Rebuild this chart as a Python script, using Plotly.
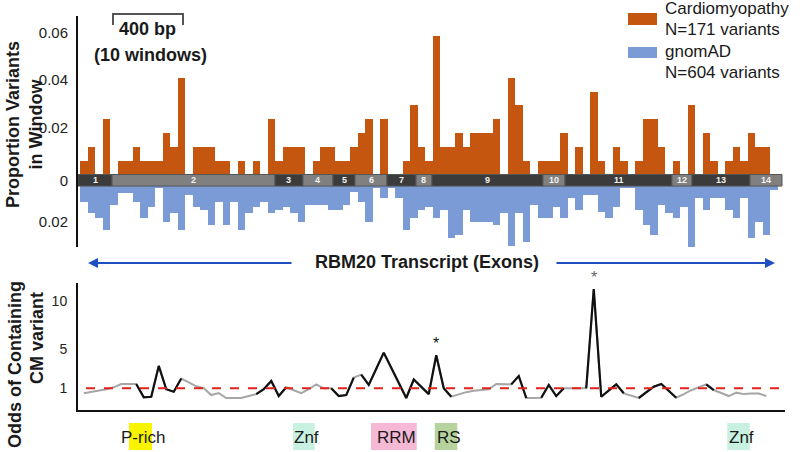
import plotly.graph_objects as go

W, H = 800, 452
FONT = "Arial, Liberation Sans, sans-serif"
ORANGE = "#c5560f"
BLUE = "#7a9bd6"

# cardiomyopathy variant counts per 40 bp window (N=171)
CM_COUNTS = [1, 2, 0, 4, 0, 1, 1, 2, 1, 1,
             1, 3, 2, 7, 0, 2, 2, 2, 1, 1,
             0, 1, 0, 1, 0, 4, 1, 2, 2, 2,
             0, 1, 2, 2, 1, 1, 2, 3, 4, 0,
             4, 0, 0, 1, 5, 2, 1, 10, 2, 2,
             3, 2, 3, 3, 3, 4, 0, 7, 5, 1,
             0, 1, 1, 1, 3, 0, 2, 0, 6, 1,
             0, 2, 1, 0, 1, 4, 4, 2, 0, 1,
             0, 5, 0, 3, 1, 0, 1, 2, 1, 3,
             2, 2, 0]
N_CM = 171

# gnomAD proportion per window (N=604)
GNOMAD_PROP = [0.0115, 0.0163, 0.0183, 0.0235, 0.0129, 0.0078, 0.0078, 0.0115, 0.0183, 0.0136,
               0.0057, 0.0200, 0.0163, 0.0235, 0.0087, 0.0136, 0.0150, 0.0214, 0.0115, 0.0214,
               0.0115, 0.0235, 0.0163, 0.0136, 0.0115, 0.0163, 0.0150, 0.0136, 0.0163, 0.0200,
               0.0129, 0.0129, 0.0129, 0.0150, 0.0150, 0.0129, 0.0073, 0.0115, 0.0200, 0.0057,
               0.0100, 0.0057, 0.0100, 0.0235, 0.0183, 0.0150, 0.0136, 0.0183, 0.0150, 0.0270,
               0.0256, 0.0150, 0.0200, 0.0200, 0.0200, 0.0214, 0.0163, 0.0302, 0.0163, 0.0285,
               0.0129, 0.0183, 0.0186, 0.0136, 0.0183, 0.0101, 0.0150, 0.0087, 0.0087, 0.0158,
               0.0183, 0.0136, 0.0058, 0.0058, 0.0150, 0.0214, 0.0256, 0.0129, 0.0165, 0.0183,
               0.0136, 0.0341, 0.0101, 0.0150, 0.0101, 0.0101, 0.0150, 0.0183, 0.0101, 0.0270,
               0.0200, 0.0256, 0.0066]

# odds of containing a CM variant, per window
ODDS = [0.48, 0.6, 0.75, 0.9, 1.1, 1.44, 1.44, 1.44, 0.07, 0.13,
        3.3, 0.9, 0.65, 2.0, 1.6, 1.2, 1.0, 0.3, 0.5, 0.0,
        0.0, 0.0, 0.2, 0.4, 0.9, 1.75, 0.2, 1.1, 0.8, 0.5,
        0.9, 1.4, 1.0, 1.0, 0.2, 0.3, 2.1, 2.4, 1.34, 3.0,
        4.66, 3.1, 1.55, 0.0, 1.9, 1.2, 0.4, 4.4, 1.0, 0.13,
        0.4, 0.6, 0.75, 0.8, 0.9, 1.44, 1.4, 1.4, 2.26, 0.0,
        0.0, 0.03, 1.34, 0.2, 1.0, 1.0, 1.0, 1.0, 11.2, 0.13,
        0.8, 1.4, 0.48, 0.2, 0.0, 0.6, 1.16, 1.44, 0.7, 0.03,
        0.4, 0.8, 1.1, 1.4, 0.82, 0.5, 0.2, 0.55, 0.4, 0.45,
        0.45, 0.2]
BLACK_RUNS = [(7, 13), (23, 27), (33, 36), (37, 49), (57, 59), (61, 64), (67, 72), (74, 79), (83, 84)]
SIG_WINDOWS = [47, 68]

# exon boundaries in window units
EXON_EDGES = [-0.27, 4.27, 26.0, 29.73, 33.73, 36.67, 40.93, 44.8, 46.93,
              61.73, 64.67, 78.93, 81.6, 89.33, 93.6]
DOMAINS = [("P-rich", 6.53, 9.6, "#f8f400"), ("Znf", 28.4, 31.3, "#c8f1e1"),
           ("RRM", 38.8, 44.9, "#f6b9d5"), ("RS", 47.3, 50.3, "#b6d39e"),
           ("Znf", 86.3, 89.3, "#c8f1e1")]


def px(x):
    return x / W


def py(y):
    return 1 - y / H


def label(x, y, text, size=18, color="#1a1a1a", **kw):
    d = dict(x=px(x), y=py(y), xref="paper", yref="paper", text=text, showarrow=False,
             xanchor="center", yanchor="middle", font=dict(family=FONT, size=size, color=color))
    d.update(kw)
    return d


xc = [i + 0.5 for i in range(len(CM_COUNTS))]
fig = go.Figure()
fig.add_trace(go.Bar(x=xc, y=[c / N_CM for c in CM_COUNTS], width=1,
                     marker=dict(color=ORANGE, line=dict(width=0)), xaxis="x", yaxis="y"))
fig.add_trace(go.Bar(x=xc, y=[-g for g in GNOMAD_PROP], width=1,
                     marker=dict(color=BLUE, line=dict(width=0)), xaxis="x", yaxis="y"))

ox = [i + 0.5 for i in range(len(ODDS))]
fig.add_trace(go.Scatter(x=ox, y=ODDS, mode="lines", line=dict(color="#a6a6a6", width=2),
                         xaxis="x2", yaxis="y2"))
for a, b in BLACK_RUNS:
    fig.add_trace(go.Scatter(x=ox[a:b + 1], y=ODDS[a:b + 1], mode="lines",
                             line=dict(color="#111111", width=2.2), xaxis="x2", yaxis="y2"))

shapes = []
# exon strip
for k in range(len(EXON_EDGES) - 1):
    shapes.append(dict(type="rect", xref="x", yref="y", x0=EXON_EDGES[k], x1=EXON_EDGES[k + 1],
                       y0=0, y1=-0.0049, fillcolor="#3b3b3b" if k % 2 == 0 else "#808080",
                       line=dict(color="#555555", width=1), layer="above"))
# odds = 1 reference
shapes.append(dict(type="line", xref="paper", yref="y2", x0=px(86), x1=px(783), y0=1, y1=1,
                   line=dict(color="#e3211c", width=2, dash="dash")))
# 400 bp scale bracket
shapes.append(dict(type="path", xref="paper", yref="paper",
                   path=f"M {px(113)},{py(25)} L {px(113)},{py(14)} L {px(183)},{py(14)} L {px(183)},{py(25)}",
                   line=dict(color="#555555", width=2)))
# legend swatches
shapes.append(dict(type="rect", xref="paper", yref="paper", x0=px(628), x1=px(657), y0=py(25), y1=py(13),
                   fillcolor=ORANGE, line=dict(width=0)))
shapes.append(dict(type="rect", xref="paper", yref="paper", x0=px(628), x1=px(657), y0=py(58), y1=py(47),
                   fillcolor=BLUE, line=dict(width=0)))
# protein domains
for name, a, b, col in DOMAINS:
    shapes.append(dict(type="rect", xref="x2", yref="paper", x0=a, x1=b, y0=py(450), y1=py(423),
                       fillcolor=col, line=dict(width=0), layer="below"))

ann = []
for k in range(len(EXON_EDGES) - 1):
    ann.append(dict(x=(EXON_EDGES[k] + EXON_EDGES[k + 1]) / 2, y=-0.00245, xref="x", yref="y",
                    text=f"<b>{k + 1}</b>", showarrow=False, xanchor="center", yanchor="middle",
                    font=dict(family=FONT, size=9, color="#f2f2f2")))
for name, a, b, col in DOMAINS:
    ann.append(dict(x=(a + b) / 2, y=py(437), xref="x2", yref="paper", text=name, showarrow=False,
                    xanchor="center", yanchor="middle", xshift=3,
                    font=dict(family=FONT, size=17, color="#1a1a1a")))
for i in SIG_WINDOWS:
    ann.append(dict(x=ox[i], y=ODDS[i], xref="x2", yref="y2", text="*", showarrow=False,
                    xanchor="center", yanchor="bottom", yshift=1,
                    font=dict(family=FONT, size=16, color="#111111" if i == SIG_WINDOWS[0] else "#666666")))

ann += [
    label(24, 125, "<b>Proportion Variants<br>in Window</b>", textangle=-90),
    label(15, 365, "<b>Odds of Containing</b>", textangle=-90),
    label(37, 338, "<b>CM variant</b>", textangle=-90),
    label(147, 29, "<b>400 bp</b>"),
    label(150, 55, "<b>(10 windows)</b>"),
    label(427, 262, "<b>RBM20 Transcript (Exons)</b>"),
    dict(x=px(88), y=py(263), xref="paper", yref="paper", ax=205, ay=0, showarrow=True, text="",
         arrowhead=2, arrowsize=1, arrowwidth=2, arrowcolor="#1f4fc1"),
    dict(x=px(775), y=py(263), xref="paper", yref="paper", ax=-220, ay=0, showarrow=True, text="",
         arrowhead=2, arrowsize=1, arrowwidth=2, arrowcolor="#1f4fc1"),
]
for txt, yy in [("Cardiomyopathy", 9), ("N=171 variants", 30), ("gnomAD", 52), ("N=604 variants", 73)]:
    ann.append(label(663, yy, txt, size=17, xanchor="left"))

fig.update_layout(
    width=W, height=H, margin=dict(l=0, r=0, t=0, b=0),
    paper_bgcolor="white", plot_bgcolor="white", showlegend=False,
    barmode="overlay", bargap=0,
    xaxis=dict(domain=[px(78), px(785)], range=[-0.2667, 94], visible=False, anchor="y"),
    yaxis=dict(domain=[py(247), py(16)], range=[-0.03072, 0.06716], showgrid=False, zeroline=False,
               showline=True, linecolor="#111111", linewidth=2, ticks="", ticklabelstandoff=5,
               tickvals=[0.06, 0.04, 0.02, -0.00245, -0.02],
               ticktext=["0.06", "0.04", "0.02", "0", "0.02"],
               tickfont=dict(family=FONT, size=15, color="#222222"), anchor="x"),
    xaxis2=dict(domain=[px(78), px(785)], range=[-0.2667, 94], showgrid=False, zeroline=False,
                showline=True, linecolor="#111111", linewidth=2, showticklabels=False, ticks="",
                anchor="y2"),
    yaxis2=dict(domain=[py(410), py(283)], range=[-1.2333, 11.819], showgrid=False, zeroline=False,
                showline=True, linecolor="#111111", linewidth=2, ticks="", ticklabelstandoff=6,
                tickvals=[10, 5, 1], tickfont=dict(family=FONT, size=14, color="#222222"),
                anchor="x2"),
    shapes=shapes, annotations=ann,
)

# drop the page's default body margin so the figure fills the window exactly
fig.write_html("out.html", config={"displayModeBar": False},
               post_script="document.body.style.margin='0';")
